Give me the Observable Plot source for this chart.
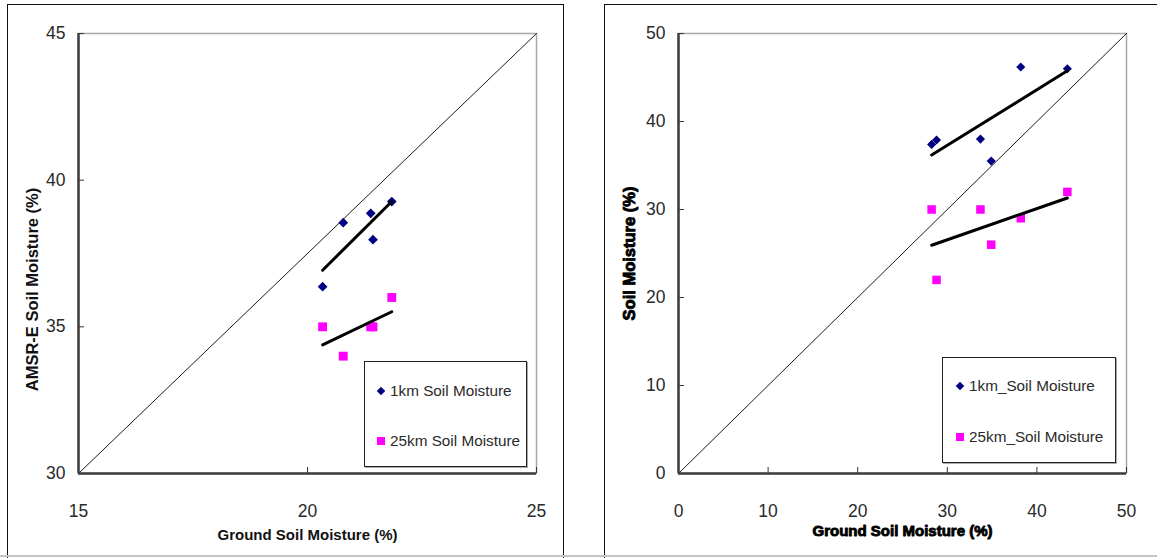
<!DOCTYPE html>
<html>
<head>
<meta charset="utf-8">
<script src="https://cdn.jsdelivr.net/npm/d3@7"></script>
<script src="https://cdn.jsdelivr.net/npm/@observablehq/plot@0.6"></script>
<style>
  body { margin: 0; background: #fff; }
  #wrap { position: relative; width: 1157px; height: 558px; overflow: hidden; font-family: "Liberation Sans", Arial, sans-serif; background: #fff; }
  .svgbox { position: absolute; top: 0; }
  .frame { position: absolute; border-left: 1.5px solid #111; border-top: 1.5px solid #111; border-right: 1.5px solid #111; }
  .bottomline { position: absolute; left: 0; top: 555px; width: 1157px; height: 2px; background: #c4c4c4; }
  .legend { position: absolute; background: #fff; border: 1.3px solid #222; box-shadow: 1px 1px 0 #aaa; }
  .item { position: absolute; font-size: 15.3px; color: #2a2a2a; white-space: nowrap; transform: translateY(-50%); line-height: 1; }
  .sym { position: absolute; transform: translate(-50%, -50%); }
  .dia { width: 6px; height: 6px; background: #000080; transform: translate(-50%, -50%) rotate(45deg); }
  .sq { width: 8px; height: 8px; background: #ff00ff; }
</style>
</head>
<body>
<div id="wrap"></div>
<script>
// ---------- data ----------
const leftGround = [20.33, 20.78, 21.38, 21.43, 21.84];
const left1km    = [36.37, 38.55, 38.87, 37.97, 39.27];
const left25km   = [35, 34, 35, 35, 36];

const rightGround = [28.25, 28.8, 33.7, 34.9, 38.2, 43.4];
const right1km    = [37.4, 37.9, 38.0, 35.5, 46.2, 46.0];
const right25km   = [30, 22, 30, 26, 29, 32];

const leftXTicks = [15, 20, 25];
const leftYTicks = [30, 35, 40, 45];
const rightXTicks = [0, 10, 20, 30, 40, 50];
const rightYTicks = [0, 10, 20, 30, 40, 50];

const leftXTitle = "Ground Soil Moisture (%)";
const leftYTitle = "AMSR-E Soil Moisture (%)";
const rightXTitle = "Ground Soil Moisture (%)";
const rightYTitle = "Soil Moisture (%)";

const leftLegend = ["1km Soil Moisture", "25km Soil Moisture"];
const rightLegend = ["1km_Soil Moisture", "25km_Soil Moisture"];

// ---------- drawing ----------
const wrap = document.getElementById("wrap");

function panel(cfg) {
  const pts1 = cfg.ground.map((g, i) => ({x: g, y: cfg.s1[i]}));
  const pts25 = cfg.ground.map((g, i) => ({x: g, y: cfg.s25[i]}));
  const xd = [cfg.xTicks[0], cfg.xTicks[cfg.xTicks.length - 1]];
  const yd = [cfg.yTicks[0], cfg.yTicks[cfg.yTicks.length - 1]];
  const diag = [{x: xd[0], y: yd[0]}, {x: xd[1], y: yd[1]}];
  const H = 558, mt = 33, mb = 85, ml = 78;
  const plotW = cfg.width - ml - cfg.mr, plotH = H - mt - mb;
  const titleStyle = cfg.heavy
    ? {fontWeight: 900, stroke: "#000", strokeWidth: 0.9, fill: "#000"}
    : {fontWeight: "bold", fill: "#111"};
  const svg = Plot.plot({
    width: cfg.width, height: H,
    marginLeft: ml, marginRight: cfg.mr, marginTop: mt, marginBottom: mb,
    x: {domain: xd},
    y: {domain: yd},
    style: {fontFamily: '"Liberation Sans", Arial, sans-serif', background: "transparent", overflow: "visible"},
    marks: [
      Plot.frame({stroke: "#a8a8a8", strokeWidth: 1.5}),
      Plot.line(diag, {x: "x", y: "y", stroke: "#000", strokeWidth: 0.9}),
      Plot.tickX(cfg.xTicks, {x: d => d, insetTop: plotH - 6, stroke: "#333", strokeWidth: 1}),
      Plot.tickY(cfg.yTicks, {y: d => d, insetRight: plotW - 6, stroke: "#333", strokeWidth: 1}),
      Plot.ruleX([xd[0]], {stroke: "#3c3c3c", strokeWidth: 2.5}),
      Plot.ruleY([yd[0]], {stroke: "#3c3c3c", strokeWidth: 2.5}),
      Plot.axisX({ticks: cfg.xTicks, tickSize: 0, tickPadding: 31, label: null, fontSize: 17.5, fill: "#2a2a2a"}),
      Plot.axisY({ticks: cfg.yTicks, tickSize: 0, tickPadding: 13, label: null, fontSize: 17.5, fill: "#2a2a2a"}),
      Plot.dot(pts1, {x: "x", y: "y", symbol: "diamond2", r: cfg.dr, fill: "#000080"}),
      Plot.dot(pts25, {x: "x", y: "y", symbol: "square", r: cfg.sr, fill: "#ff00ff"}),
      Plot.linearRegressionY(pts1, {x: "x", y: "y", ci: 0, stroke: "#000", strokeWidth: 3}),
      Plot.linearRegressionY(pts25, {x: "x", y: "y", ci: 0, stroke: "#000", strokeWidth: 3}),
      Plot.text([cfg.xTitle], {frameAnchor: "bottom", dy: cfg.xTitleDy, lineAnchor: "middle", textAnchor: "middle", fontSize: cfg.xTitleSize, ...titleStyle}),
      Plot.text([cfg.yTitle], {frameAnchor: "left", rotate: -90, dx: cfg.yTitleDx, dy: cfg.yTitleDy, lineAnchor: "middle", textAnchor: "middle", fontSize: cfg.yTitleSize, ...titleStyle})
    ]
  });
  const box = document.createElement("div");
  box.className = "svgbox";
  box.style.left = cfg.left + "px";
  box.appendChild(svg);
  wrap.appendChild(box);

  // legend
  const lg = document.createElement("div");
  lg.className = "legend";
  const L = cfg.legend;
  lg.style.left = L.x + "px"; lg.style.top = L.y + "px";
  lg.style.width = L.w + "px"; lg.style.height = L.h + "px";
  cfg.legendLabels.forEach((lab, i) => {
    const cy = L.rows[i];
    const s = document.createElement("div");
    s.className = "sym " + (i === 0 ? "dia" : "sq");
    s.style.left = L.symX + "px"; s.style.top = cy + "px";
    lg.appendChild(s);
    const t = document.createElement("div");
    t.className = "item";
    t.style.left = L.textX + "px"; t.style.top = cy + "px";
    t.textContent = lab;
    lg.appendChild(t);
  });
  wrap.appendChild(lg);
}

// frames
const f1 = document.createElement("div");
f1.className = "frame";
Object.assign(f1.style, {left: "7px", top: "4px", width: "555px", height: "600px"});
wrap.appendChild(f1);
const f2 = document.createElement("div");
f2.className = "frame";
Object.assign(f2.style, {left: "604px", top: "4px", width: "700px", height: "600px"});
wrap.appendChild(f2);

panel({
  left: 0, width: 570, mr: 34,
  ground: leftGround, s1: left1km, s25: left25km,
  xTicks: leftXTicks, yTicks: leftYTicks,
  dr: 4.4, sr: 5.0,
  xTitle: leftXTitle, yTitle: leftYTitle,
  xTitleDy: 62, xTitleSize: 15,
  yTitleDx: -46, yTitleDy: 36, yTitleSize: 16.5,
  heavy: false,
  legendLabels: leftLegend,
  legend: {x: 364, y: 361, w: 161, h: 104, symX: 16, textX: 25, rows: [29, 79]}
});

panel({
  left: 600, width: 557, mr: 31,
  ground: rightGround, s1: right1km, s25: right25km,
  xTicks: rightXTicks, yTicks: rightYTicks,
  dr: 4.1, sr: 4.8,
  xTitle: rightXTitle, yTitle: rightYTitle,
  xTitleDy: 58, xTitleSize: 15,
  yTitleDx: -49, yTitleDy: 0, yTitleSize: 16.5,
  heavy: true,
  legendLabels: rightLegend,
  legend: {x: 942, y: 357, w: 172, h: 104, symX: 17, textX: 26, rows: [28, 79]}
});

const bl = document.createElement("div");
bl.className = "bottomline";
wrap.appendChild(bl);
</script>
</body>
</html>
